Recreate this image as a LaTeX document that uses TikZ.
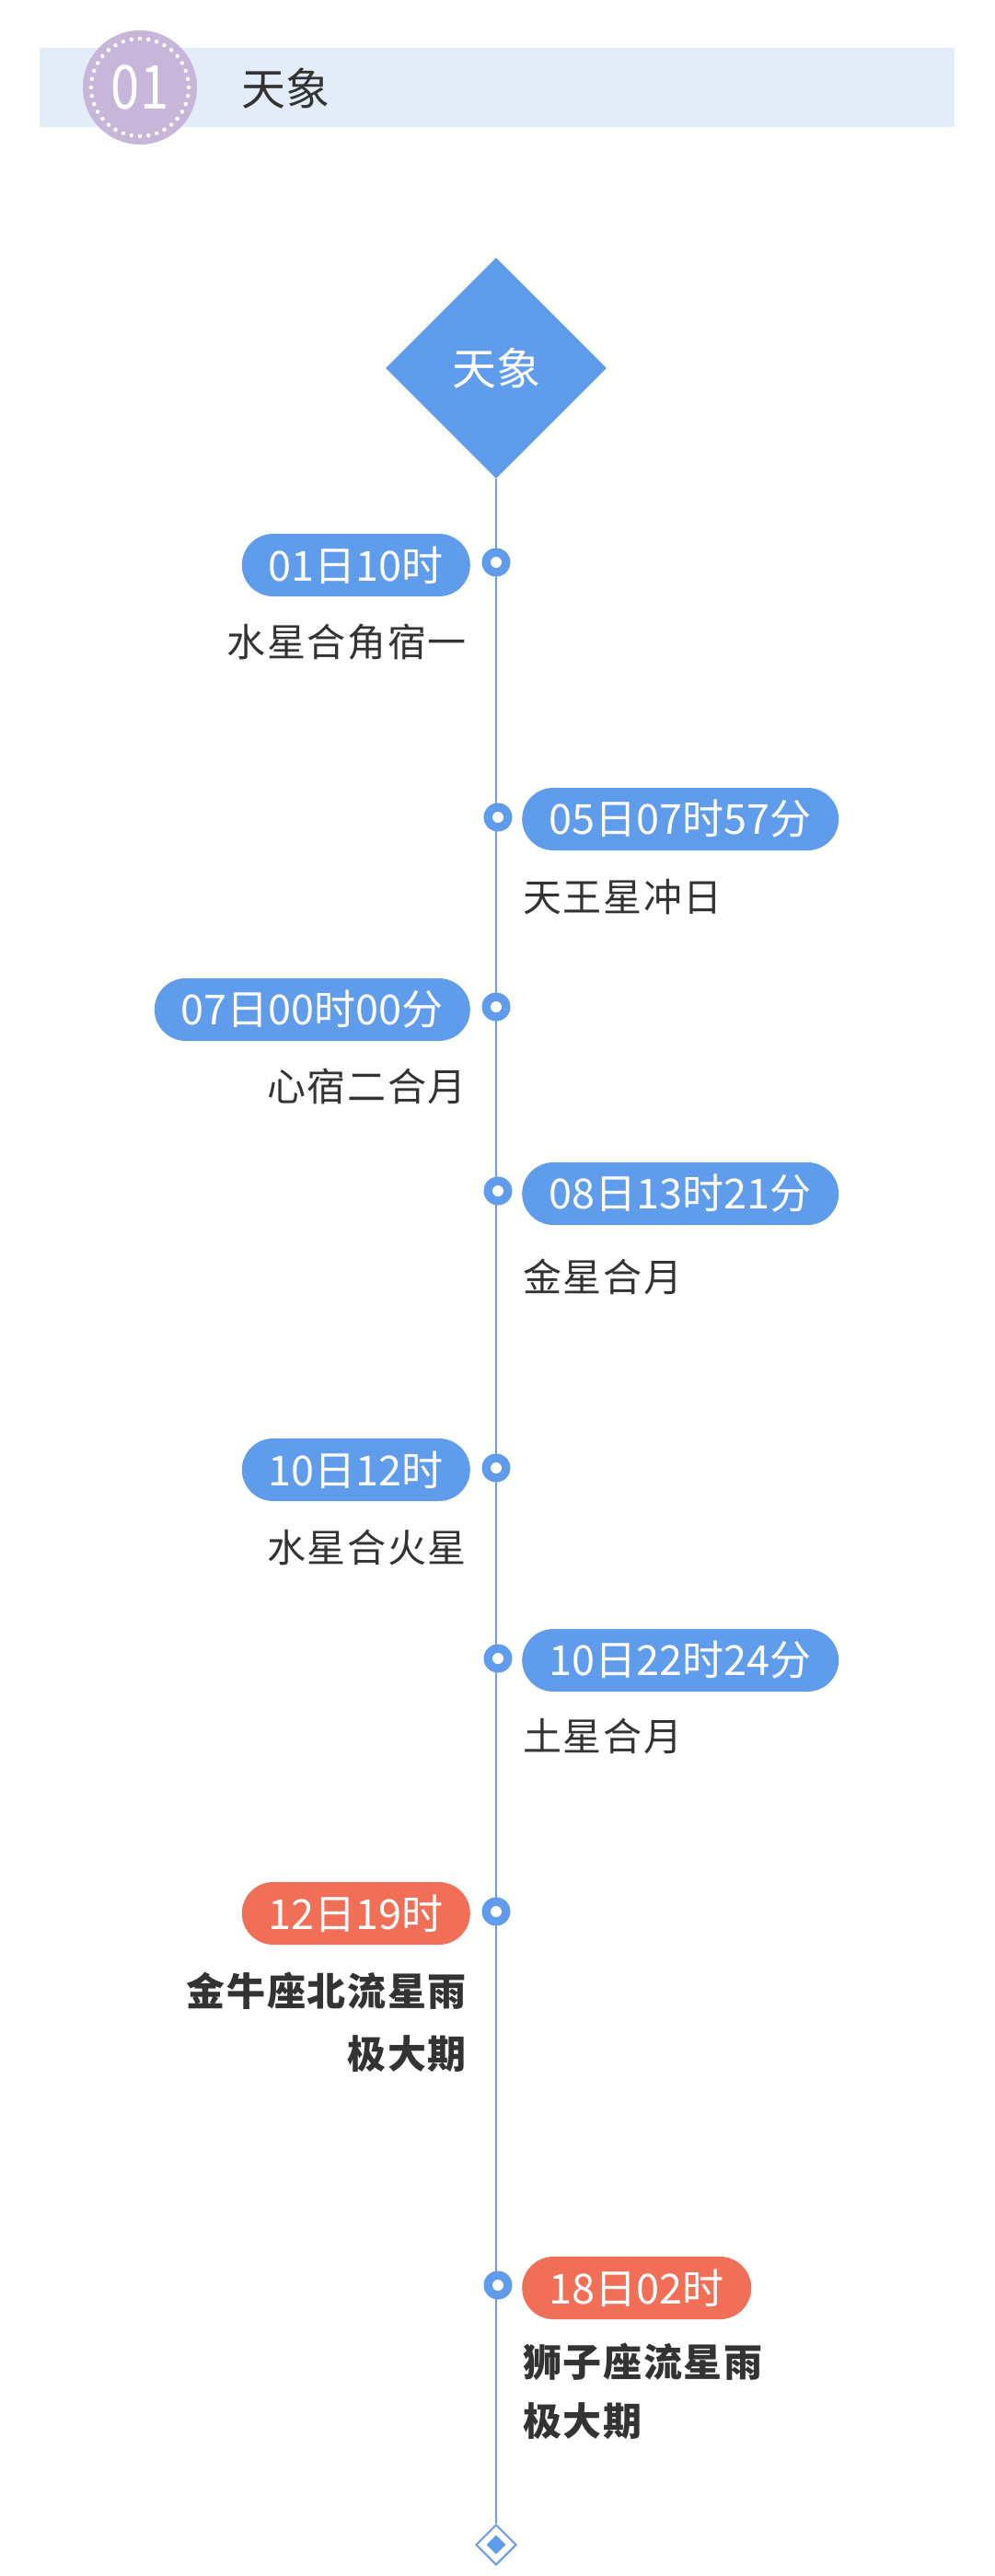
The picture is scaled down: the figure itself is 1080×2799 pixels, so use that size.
\documentclass[tikz,border=0pt]{standalone}
\usepackage{fontspec}
\setmainfont{Noto Sans CJK SC}
\usetikzlibrary{shapes.geometric}
\definecolor{pillblue}{HTML}{5F9CEB}
\definecolor{pillred}{HTML}{F26F57}
\definecolor{linecol}{HTML}{6A9EE6}
\definecolor{txt}{HTML}{333333}
\definecolor{band}{HTML}{E2EDF9}
\definecolor{purp}{HTML}{C8B6DA}
\newcommand{\pillfont}{\fontsize{45pt}{48pt}\selectfont}
\newcommand{\labfont}{\fontsize{42pt}{46pt}\selectfont\addfontfeatures{LetterSpace=4}}
\tikzset{
  pill/.style={rounded corners=34pt, minimum height=68pt, inner xsep=0pt, inner ysep=0pt, text=white, font=\pillfont},
  bluepill/.style={pill, fill=pillblue},
  redpill/.style={pill, fill=pillred},
  marker/.style={circle, fill=pillblue, minimum size=31pt, inner sep=0pt, path picture={\fill[white] (path picture bounding box.center) circle (6pt);}},
  leftlab/.style={anchor=east, text=txt, font=\labfont, inner sep=0pt, align=right},
  rightlab/.style={anchor=west, text=txt, font=\labfont, inner sep=0pt, align=left},
  tline/.style={draw=linecol, line width=2pt}
}
\begin{document}
\begin{tikzpicture}[x=1pt,y=-1pt]
\useasboundingbox (0,0) rectangle (1080,2799);
\fill[white] (0,0) rectangle (1080,2799);
% header
\fill[band] (43,52) rectangle (1037,138);
\node[circle, fill=purp, minimum size=124pt, inner sep=0pt] (numc) at (152,95) {};
\draw[white, line width=4.5pt, dash pattern=on 0pt off 9.25pt, line cap=round] (numc.center) circle (53pt);
\node[text=white, font=\fontsize{66pt}{66pt}\selectfont, xscale=0.85] (num) at (numc.center) {01};
\node[anchor=west, text=txt, font=\fontsize{48pt}{50pt}\selectfont, inner sep=0pt] (title) at (262,96) {天象};
% main diamond
\node[diamond, fill=pillblue, minimum width=240pt, minimum height=240pt, inner sep=0pt, text=white, font=\fontsize{48pt}{50pt}\selectfont] (top) at (539,400) {天象};
% end diamond
\node[diamond, draw=linecol, line width=2pt, fill=white, minimum width=44pt, minimum height=44pt, inner sep=0pt] (end) at (539,2765) {};
\node[diamond, fill=pillblue, minimum width=21pt, minimum height=21pt, inner sep=0pt] (endin) at (end.center) {};
% timeline
\draw[tline] (top.south) -- (end.north);
% markers
\node[marker] (m1) at (539,611) {};
\node[marker] (m2) at (541,888) {};
\node[marker] (m3) at (539,1094) {};
\node[marker] (m4) at (541,1294) {};
\node[marker] (m5) at (539,1595) {};
\node[marker] (m6) at (541,1802) {};
\node[marker] (m7) at (539,2077) {};
\node[marker] (m8) at (541,2483) {};
% pills
\node[bluepill, minimum width=248pt, anchor=east] (p1) at (511,614) {01日10时};
\node[bluepill, minimum width=344pt, anchor=west] (p2) at (567,890) {05日07时57分};
\node[bluepill, minimum width=343pt, anchor=east] (p3) at (511,1097) {07日00时00分};
\node[bluepill, minimum width=344pt, anchor=west] (p4) at (567,1297) {08日13时21分};
\node[bluepill, minimum width=248pt, anchor=east] (p5) at (511,1597) {10日12时};
\node[bluepill, minimum width=344pt, anchor=west] (p6) at (567,1804) {10日22时24分};
\node[redpill, minimum width=248pt, anchor=east] (p7) at (511,2079) {12日19时};
\node[redpill, minimum width=249pt, anchor=west] (p8) at (567,2486) {18日02时};
% labels
\node[leftlab] (l1) at (507,698) {水星合角宿一};
\node[rightlab] (l2) at (568,975) {天王星冲日};
\node[leftlab] (l3) at (507,1180) {心宿二合月};
\node[rightlab] (l4) at (568,1387) {金星合月};
\node[leftlab] (l5) at (507,1681) {水星合火星};
\node[rightlab] (l6) at (568,1886) {土星合月};
\node[leftlab, font=\labfont\bfseries] (l7a) at (507,2163) {金牛座北流星雨};
\node[leftlab, font=\labfont\bfseries] (l7b) at (507,2232) {极大期};
\node[rightlab, font=\labfont\bfseries] (l8a) at (568,2566) {狮子座流星雨};
\node[rightlab, font=\labfont\bfseries] (l8b) at (568,2631) {极大期};
\end{tikzpicture}
\end{document}
